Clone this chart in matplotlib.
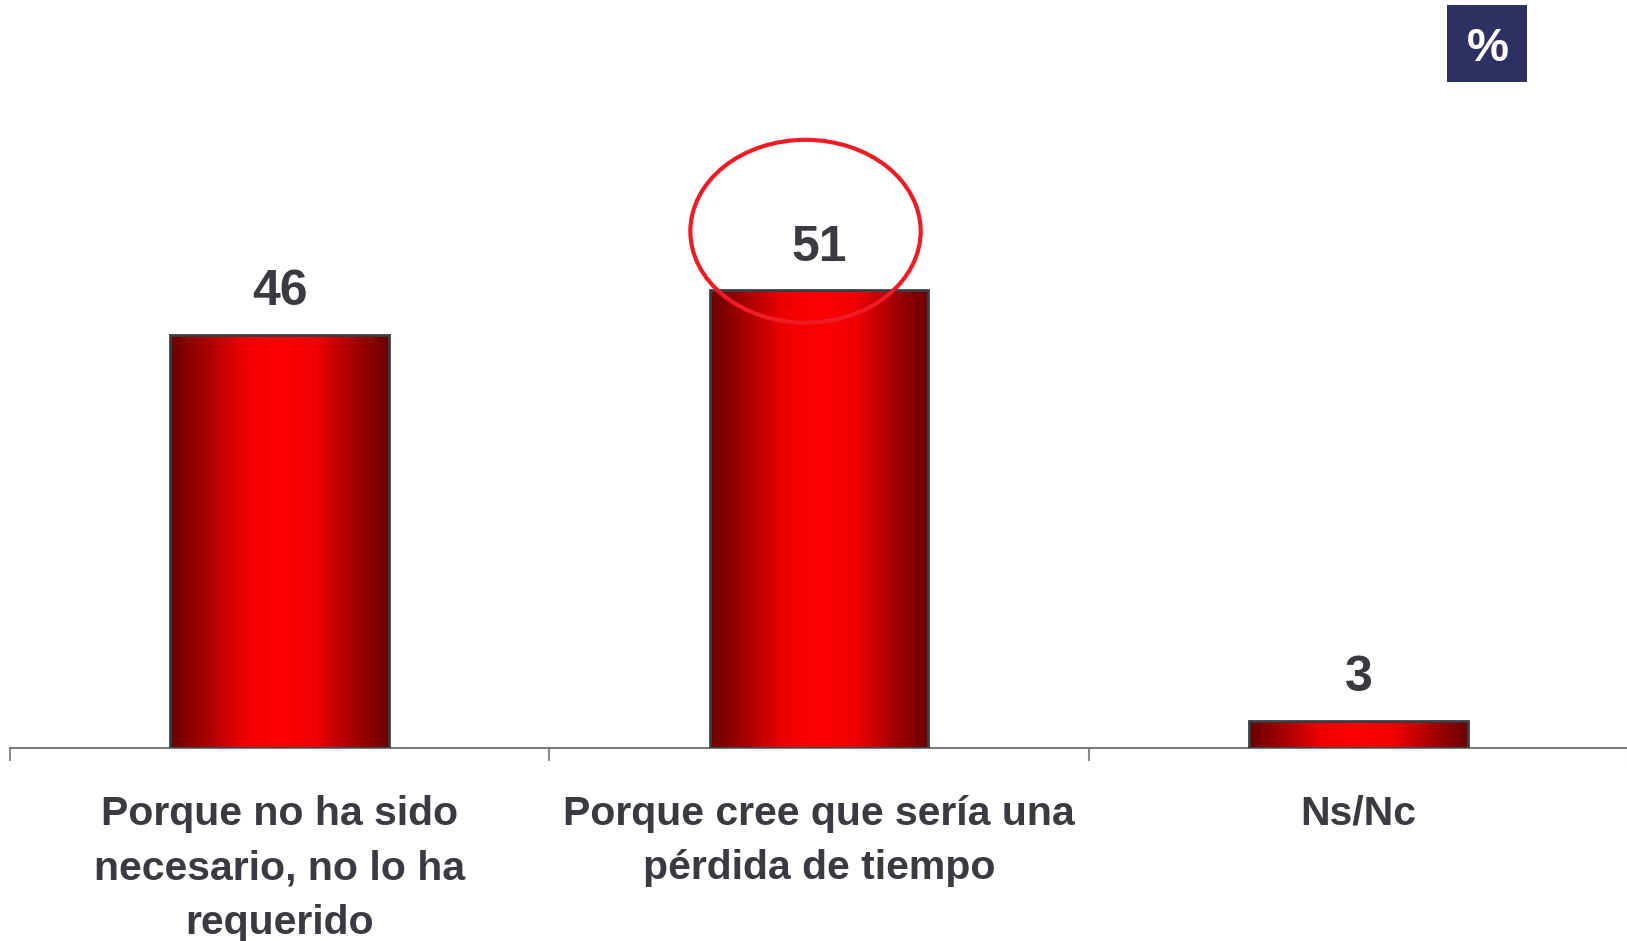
import matplotlib
matplotlib.use("Agg")
import matplotlib.pyplot as plt
import numpy as np
from matplotlib.colors import LinearSegmentedColormap
from matplotlib.patches import Ellipse, Rectangle

categories = ["Porque no ha sido\nnecesario, no lo ha\nrequerido",
              "Porque cree que sería una\npérdida de tiempo",
              "Ns/Nc"]
values = [46, 51, 3]
value_labels = ["46", "51", "3"]

W, H = 1627, 941
fig = plt.figure(figsize=(W / 100, H / 100), dpi=100)
plt.rcParams['font.family'] = ['Liberation Sans', 'DejaVu Sans']

ax = fig.add_axes([10 / W, (H - 747.5) / H, 1618 / W, 747.5 / H])

x = np.arange(len(categories))
bars = ax.bar(x, values, width=0.405, color="none", edgecolor="#3c3c44",
              linewidth=2.0, zorder=3)

cmap = LinearSegmentedColormap.from_list(
    "redgrad", ["#6a0000", "#a80000", "#f00000", "#ff0000", "#f00000", "#a80000", "#6a0000"])
grad = np.linspace(0, 1, 256).reshape(1, -1)
for b in bars:
    x0, y0 = b.get_x(), b.get_y()
    w, h = b.get_width(), b.get_height()
    im = ax.imshow(grad, cmap=cmap, aspect="auto",
                   extent=[x0, x0 + w, y0, y0 + h], zorder=2,
                   interpolation="bilinear")
    im.set_clip_path(b)

ax.set_xlim(-0.5, 2.5)
ax.set_ylim(0, 83.4)

text_color = "#3a3a40"
for xi, v, lab in zip(x, values, value_labels):
    ax.annotate(lab, xy=(xi, v), xytext=(0, 21.5), textcoords="offset points",
                ha="center", va="baseline", fontsize=36, fontweight="bold",
                color=text_color)

for xi, cat in zip(x, categories):
    ax.annotate(cat, xy=(xi, 0), xytext=(0, -34), textcoords="offset points",
                ha="center", va="top", fontsize=29.5, fontweight="bold",
                color=text_color, linespacing=1.55, annotation_clip=False)

# axis styling
for s in ["top", "right", "left"]:
    ax.spines[s].set_visible(False)
ax.spines["bottom"].set_color("#7a7a7a")
ax.spines["bottom"].set_linewidth(1.5)
ax.set_yticks([])
ax.set_xticks([-0.5, 0.5, 1.5, 2.5])
ax.set_xticklabels([])
ax.tick_params(axis="x", direction="out", length=9.7, width=1.5, color="#8a8a8a")

# highlight ellipse around the maximum value
ell = Ellipse((0.975, 57.6), width=0.427, height=20.4, fill=False,
              edgecolor="#ee1c25", linewidth=3.0, zorder=5, clip_on=False)
ax.add_patch(ell)

# percentage badge
fig.patches.append(Rectangle((1447 / W, 1 - 82 / H), 80 / W, 77 / H,
                             transform=fig.transFigure, facecolor="#2f3062",
                             edgecolor="none", zorder=10))
fig.text(1488 / W, 1 - 49 / H, "%", ha="center", va="center", fontsize=34,
         fontweight="bold", color="white", zorder=11)

fig.savefig("out.png", dpi=100)
